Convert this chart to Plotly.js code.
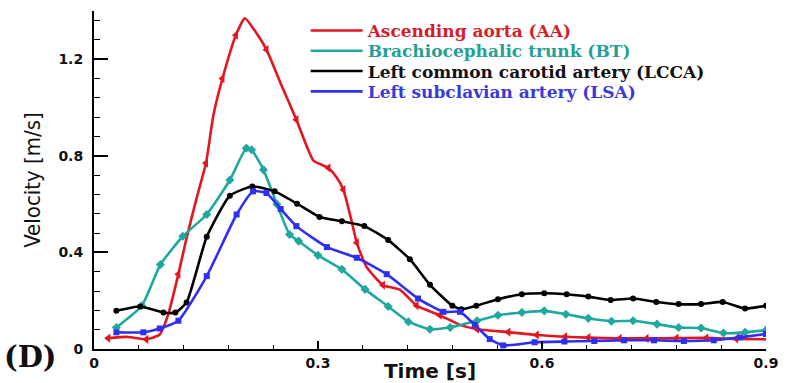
<!DOCTYPE html>
<html>
<head>
<meta charset="utf-8">
<script src="https://cdn.plot.ly/plotly-3.0.1.min.js"></script>
<style>
html, body { margin: 0; padding: 0; background: #fff; }
#chart { width: 792px; height: 383px; }
</style>
</head>
<body>
<div id="chart"></div>
<script>
// ---- data ----
const seriesNames = [
  'Ascending aorta (AA)',
  'Brachiocephalic trunk (BT)',
  'Left common carotid artery (LCCA)',
  'Left subclavian artery (LSA)'
];

const aaTime = [0.019,0.045,0.07,0.088,0.10,0.113,0.124,0.137,0.15,0.16,0.172,0.19,0.202,0.215,0.231,0.25,0.271,0.294,0.314,0.325,0.334,0.345,0.352,0.365,0.387,0.41,0.432,0.463,0.49,0.513,0.555,0.593,0.631,0.662,0.704,0.74,0.78,0.82,0.86,0.9];
const aaVel  = [0.045,0.05,0.04,0.06,0.15,0.31,0.46,0.62,0.77,0.97,1.12,1.30,1.37,1.32,1.24,1.10,0.95,0.78,0.75,0.71,0.66,0.53,0.44,0.34,0.265,0.245,0.18,0.14,0.10,0.082,0.07,0.058,0.051,0.047,0.044,0.044,0.045,0.046,0.042,0.04];

const btTime = [0.03,0.064,0.089,0.119,0.151,0.182,0.204,0.211,0.227,0.245,0.262,0.274,0.30,0.332,0.363,0.394,0.421,0.45,0.477,0.513,0.541,0.573,0.603,0.632,0.662,0.693,0.722,0.754,0.783,0.813,0.843,0.872,0.9];
const btVel  = [0.089,0.179,0.35,0.467,0.557,0.70,0.832,0.825,0.742,0.60,0.474,0.447,0.388,0.33,0.247,0.176,0.113,0.082,0.089,0.117,0.14,0.151,0.158,0.144,0.127,0.115,0.117,0.103,0.089,0.087,0.066,0.069,0.078];

const lccaTime = [0.03,0.062,0.093,0.109,0.124,0.151,0.182,0.212,0.242,0.272,0.302,0.332,0.362,0.394,0.423,0.45,0.48,0.492,0.512,0.541,0.573,0.603,0.633,0.662,0.692,0.722,0.753,0.783,0.813,0.842,0.872,0.9];
const lccaVel  = [0.158,0.176,0.151,0.151,0.193,0.465,0.635,0.673,0.653,0.602,0.547,0.529,0.509,0.451,0.372,0.266,0.179,0.165,0.179,0.206,0.227,0.231,0.227,0.217,0.203,0.209,0.195,0.186,0.186,0.195,0.168,0.179];

const lsaTime = [0.03,0.066,0.088,0.113,0.151,0.191,0.213,0.231,0.25,0.271,0.312,0.352,0.392,0.434,0.468,0.49,0.51,0.53,0.548,0.59,0.63,0.67,0.71,0.75,0.79,0.83,0.865,0.9];
const lsaVel  = [0.069,0.069,0.085,0.117,0.302,0.557,0.653,0.646,0.58,0.509,0.422,0.378,0.31,0.209,0.154,0.154,0.10,0.041,0.015,0.028,0.031,0.033,0.036,0.036,0.033,0.036,0.048,0.062];

const xTickVals = [0, 0.3, 0.6, 0.9];
const xTickText = ['0', '0.3', '0.6', '0.9'];
const yTickVals = [0, 0.4, 0.8, 1.2];
const yTickText = ['0', '0.4', '0.8', '1.2'];

// ---- styling ----
const colors = ['#e3161f', '#1fa89e', '#000000', '#2f2ff2'];
const textColors = ['#d4202a', '#26a096', '#111111', '#3a3ad8'];
const symbols = ['triangle-left', 'diamond', 'circle', 'square'];
const markerSizes = [8, 7, 6, 6];
const xs = [aaTime, btTime, lccaTime, lsaTime];
const ys = [aaVel, btVel, lccaVel, lsaVel];
// which points of the red curve carry a symbol (symbol skipping, as in the source plot)
const aaSymbolIdx = [0,2,5,8,10,11,14,16,18,20,22,24,26,27,29,30,31,32,33,34,35,36,37,38];

const dataTraces = seriesNames.map((n, i) => {
  const t = {
    type: 'scatter',
    mode: 'lines+markers',
    x: xs[i],
    y: ys[i],
    name: n,
    showlegend: false,
    line: { color: colors[i], width: 2.6, shape: 'spline', smoothing: 0.5 },
    marker: { color: colors[i], symbol: symbols[i], size: markerSizes[i] }
  };
  if (i === 0) {
    t.selectedpoints = aaSymbolIdx;
    t.selected = { marker: { opacity: 1 } };
    t.unselected = { marker: { opacity: 0 } };
  }
  return t;
});

// legend entries: line only (no symbols), one legend per row for exact row spacing
const legendIds = ['legend', 'legend2', 'legend3', 'legend4'];
const legendTraces = seriesNames.map((n, i) => ({
  type: 'scatter',
  mode: 'lines',
  x: [null], y: [null],
  name: '<span style="color:' + textColors[i] + '">' + n + '</span>',
  legend: legendIds[i],
  showlegend: true,
  line: { color: colors[i], width: 2.6 }
}));

const rowY = [0.941, 0.881, 0.821, 0.761];
const legendBase = (i) => ({
  x: 0.315, xanchor: 'left',
  y: rowY[i], yanchor: 'middle',
  bgcolor: 'rgba(0,0,0,0)',
  borderwidth: 0,
  font: { family: 'DejaVu Serif', size: 17, weight: 'bold' },
  itemwidth: 52
});

const layout = {
  width: 792,
  height: 383,
  margin: { l: 94, r: 26, t: 11, b: 34 },
  paper_bgcolor: '#ffffff',
  plot_bgcolor: '#ffffff',
  showlegend: true,
  legend: legendBase(0),
  legend2: legendBase(1),
  legend3: legendBase(2),
  legend4: legendBase(3),
  xaxis: {
    range: [0, 0.9],
    showgrid: false, zeroline: false,
    showline: true, linecolor: '#000', linewidth: 2,
    ticks: 'inside', ticklen: 8, tickwidth: 2, tickcolor: '#000',
    tickvals: xTickVals, ticktext: xTickText,
    tickfont: { family: 'DejaVu Sans', size: 14, weight: 'bold', color: '#111' },
    minor: { dtick: 0.06, ticks: 'inside', ticklen: 4, tickwidth: 1, tickcolor: '#000', showgrid: false },
    title: { text: 'Time [s]', font: { family: 'DejaVu Sans', size: 20, weight: 'bold', color: '#111' }, standoff: 0 }
  },
  yaxis: {
    range: [0, 1.4],
    showgrid: false, zeroline: false,
    showline: true, linecolor: '#000', linewidth: 2,
    ticks: 'inside', ticklen: 14, tickwidth: 2, tickcolor: '#000',
    tickvals: yTickVals, ticktext: yTickText,
    ticklabelstandoff: 6,
    tickfont: { family: 'DejaVu Sans', size: 14, weight: 'bold', color: '#111' },
    minor: { dtick: 0.08, ticks: 'inside', ticklen: 6, tickwidth: 1, tickcolor: '#000', showgrid: false },
    title: { text: 'Velocity [m/s]', standoff: 12, font: { family: 'Liberation Sans Narrow, DejaVu Sans Condensed, Liberation Sans', size: 22, color: '#111' } }
  },
  annotations: [{
    text: '(D)', xref: 'paper', yref: 'paper',
    x: -0.137, xanchor: 'left', y: -0.025, yanchor: 'middle',
    showarrow: false,
    font: { family: 'DejaVu Serif', size: 29, weight: 'bold', color: '#111' }
  }]
};

Plotly.newPlot('chart', dataTraces.concat(legendTraces), layout, { displayModeBar: false, staticPlot: true });
</script>
</body>
</html>
